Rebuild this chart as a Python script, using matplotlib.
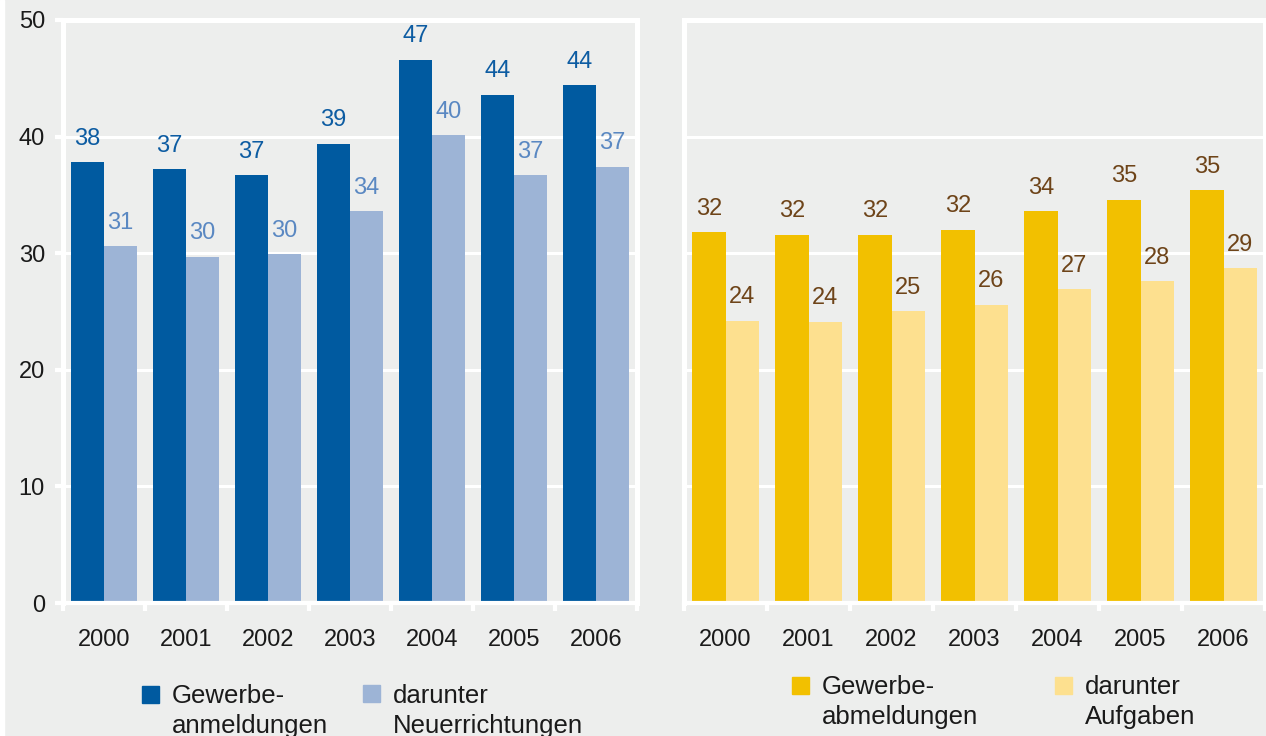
import numpy as np
import matplotlib.pyplot as plt
from matplotlib.patches import Rectangle

plt.rcParams['font.family'] = ['Liberation Sans', 'DejaVu Sans']

years = ['2000', '2001', '2002', '2003', '2004', '2005', '2006']
anmeldungen = [37.8, 37.2, 36.7, 39.4, 46.6, 43.6, 44.4]
neuerrichtungen = [30.6, 29.7, 29.9, 33.6, 40.1, 36.7, 37.4]
abmeldungen = [31.8, 31.6, 31.6, 32.0, 33.6, 34.6, 35.4]
aufgaben = [24.2, 24.1, 25.0, 25.6, 26.9, 27.6, 28.7]

W, H = 1266, 736
bg = '#edeeed'
txt = '#1a1a1a'

fig = plt.figure(figsize=(W / 100, H / 100), dpi=100, facecolor=bg)


def panel(x0, x1, a, b, c1, c2, lc1, lc2, show_y):
    top, bottom = 20, 603
    ax = fig.add_axes([x0 / W, 1 - bottom / H, (x1 - x0) / W, (bottom - top) / H])
    ax.set_facecolor(bg)
    x = np.arange(len(years))
    bars1 = ax.bar(x - 0.2, a, 0.4, color=c1)
    bars2 = ax.bar(x + 0.2, b, 0.4, color=c2)
    for bars, vals, lc in [(bars1, a, lc1), (bars2, b, lc2)]:
        for bar, v in zip(bars, vals):
            ax.annotate(str(round(v)), (bar.get_x() + bar.get_width() / 2, v),
                        xytext=(0, 9), textcoords='offset points',
                        ha='center', va='bottom', color=lc, fontsize=17)
    ax.set_xlim(-0.5, len(years) - 0.5)
    ax.set_ylim(0, 50)
    ax.set_axisbelow(True)
    ax.yaxis.grid(True, color='white', linewidth=2.2)
    for s in ['left', 'top', 'right']:
        ax.spines[s].set_color('white')
        ax.spines[s].set_linewidth(3.6)
    ax.spines['bottom'].set_color('white')
    ax.spines['bottom'].set_linewidth(3)
    ax.set_xticks(x, years)
    ax.set_xticks(np.arange(len(years) + 1) - 0.5, minor=True)
    ax.tick_params(axis='x', which='major', length=0, pad=19, labelsize=17, labelcolor=txt)
    ax.tick_params(axis='x', which='minor', length=6, width=3, color='white')
    ax.set_yticks(range(0, 51, 10))
    if show_y:
        ax.tick_params(axis='y', length=6, width=3, color='white', pad=7,
                       labelsize=17, labelcolor=txt)
    else:
        ax.tick_params(axis='y', length=0, labelleft=False)
    return ax


panel(63, 637, anmeldungen, neuerrichtungen, '#005aa0', '#9db4d6', '#0d5ca2', '#5a88c2', True)
panel(684, 1265, abmeldungen, aufgaben, '#f2c000', '#fde08f', '#6e4419', '#6e4419', False)


def legend_item(x, y, ty, color, label):
    s = 17
    fig.add_artist(Rectangle((x / W, 1 - (y + s) / H), s / W, s / H,
                             transform=fig.transFigure, color=color))
    fig.text((x + 30) / W, 1 - ty / H, label, ha='left', va='top',
             fontsize=18.5, linespacing=1.3, color=txt)


legend_item(142, 686, 684, '#005aa0', 'Gewerbe-\nanmeldungen')
legend_item(363, 685, 684, '#9db4d6', 'darunter\nNeuerrichtungen')
legend_item(792, 677, 675, '#f2c000', 'Gewerbe-\nabmeldungen')
legend_item(1055, 677, 675, '#fde08f', 'darunter\nAufgaben')

fig.add_artist(Rectangle((0, 0), 4 / W, 1, transform=fig.transFigure, color='white'))

fig.savefig('out.png', dpi=100, facecolor=bg)
